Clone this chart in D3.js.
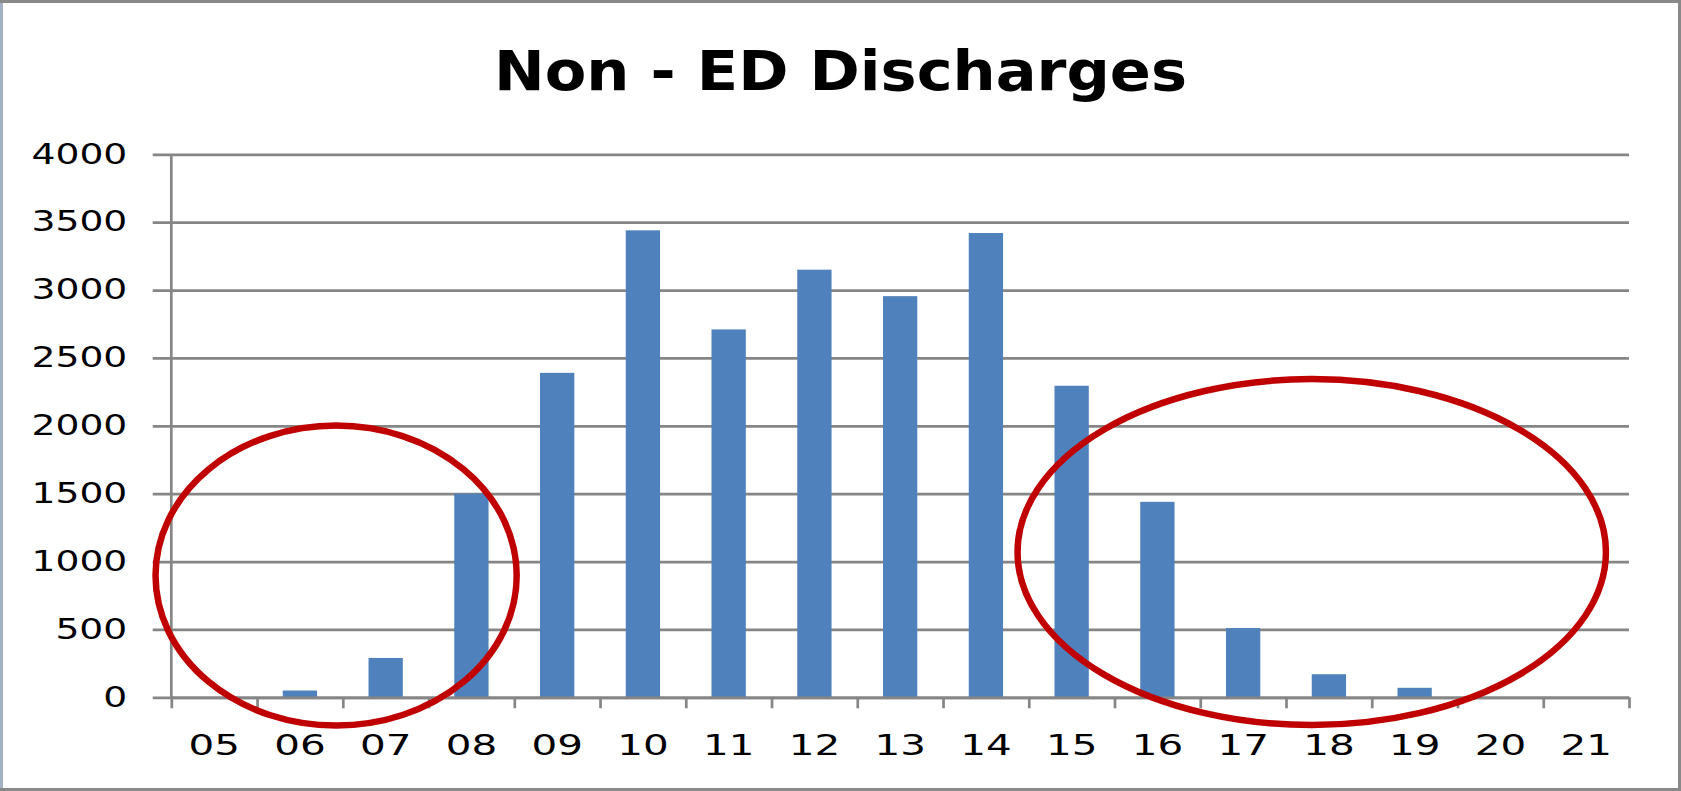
<!DOCTYPE html>
<html>
<head>
<meta charset="utf-8">
<script src="https://cdn.jsdelivr.net/npm/d3@7"></script>
<style>
body { margin: 0; background: #fff; }
</style>
</head>
<body>
<div id="chart"></div>
<script>
// chart data
var years = ["05", "06", "07", "08", "09", "10", "11", "12", "13", "14", "15", "16", "17", "18", "19", "20", "21"];
var discharges = [0, 50, 290, 1500, 2390, 3440, 2710, 3150, 2955, 3420, 2295, 1440, 510, 170, 70, 0, 0];
var yTicks = [0, 500, 1000, 1500, 2000, 2500, 3000, 3500, 4000];
var chartTitle = "Non - ED Discharges";

// red rings drawn over the chart: centre as category index / value, radius in bands / value
var ringX = [1.922, 13.30];
var ringY = [897, 1070];
var ringRx = [2.106, 3.431];
var ringRy = [1105, 1274];

var width = 1681, height = 791;
var margin = {top: 154.3, right: 52, bottom: 93.7, left: 171.3};
var plotW = width - margin.left - margin.right;
var plotH = height - margin.top - margin.bottom;

var svg = d3.select("#chart")
.append("svg")
.attr("width", width)
.attr("height", height);

// outer frame
svg.append("rect")
.attr("x", 1.5).attr("y", 1.5)
.attr("width", width - 3).attr("height", height - 3)
.attr("fill", "#fff")
.attr("stroke", "#898989")
.attr("stroke-width", 3);

svg.append("line")
.attr("x1", 1.5).attr("x2", 1.5)
.attr("y1", 3).attr("y2", height - 3)
.attr("stroke", "#a3b1c4")
.attr("stroke-width", 3);

// title
svg.append("text")
.attr("x", width / 2)
.attr("y", 90)
.attr("text-anchor", "middle")
.attr("font-family", "DejaVu Sans")
.attr("font-weight", "bold")
.attr("font-size", 56)
.attr("textLength", 693)
.attr("lengthAdjust", "spacingAndGlyphs")
.attr("fill", "#000")
.text(chartTitle);

var chartgroup = svg.append("g")
.attr("transform", "translate(" + margin.left + "," + margin.top + ")");

var xband = d3.scaleBand()
.domain(years)
.range([0, plotW])
.padding(0);

// index scale for the category boundaries
var xindex = d3.scaleLinear()
.domain([0, years.length])
.range([0, plotW]);

var ylinearscale = d3.scaleLinear()
.domain([0, 4000])
.range([plotH, 0]);

var gridColor = "#868686";

// y gridlines + labels
var yaxis = chartgroup.append("g")
.call(d3.axisLeft(ylinearscale).tickValues(yTicks).tickFormat(d3.format("d")).tickSizeInner(-plotW).tickSizeOuter(0).tickPadding(44));
yaxis.select(".domain").remove();
yaxis.selectAll("line")
.attr("x1", -18.6)
.attr("stroke", gridColor)
.attr("stroke-width", 2.7);
var ySx = 1.37;
yaxis.selectAll("text")
.attr("font-family", "DejaVu Sans")
.attr("font-size", 27.5)
.attr("fill", "#000")
.attr("x", -44 / ySx)
.attr("transform", "scale(" + ySx + ",1)");

// bars
chartgroup.append("g")
.selectAll("rect")
.data(discharges)
.enter()
.append("rect")
.attr("x", (d, i) => xband(years[i]) + xband.bandwidth() * 0.3)
.attr("width", xband.bandwidth() * 0.4)
.attr("y", d => ylinearscale(d))
.attr("height", d => plotH - ylinearscale(d))
.attr("fill", "#4f81bd");

// vertical axis line
chartgroup.append("line")
.attr("x1", 0).attr("x2", 0)
.attr("y1", 0).attr("y2", plotH)
.attr("stroke", gridColor)
.attr("stroke-width", 2.7);

// x tick marks at category boundaries
var xticks = chartgroup.append("g")
.attr("transform", "translate(0," + plotH + ")")
.call(d3.axisBottom(xindex).tickValues(d3.range(years.length + 1)).tickFormat("").tickSizeInner(11).tickSizeOuter(0));
xticks.selectAll("line, path")
.attr("stroke", gridColor)
.attr("stroke-width", 2.7);

// x labels at band centres
var xSx = 1.42;
var xlabels = chartgroup.append("g")
.attr("transform", "translate(0," + plotH + ")")
.call(d3.axisBottom(xband).tickSize(0).tickPadding(37));
xlabels.select(".domain").remove();
xlabels.selectAll("text")
.attr("font-family", "DejaVu Sans")
.attr("font-size", 28.5)
.attr("fill", "#000")
.attr("transform", "scale(" + xSx + ",1)");
xlabels.selectAll(".tick")
.attr("transform", d => "translate(" + (xband(d) + xband.bandwidth() / 2) + ",0)");

// red rings
chartgroup.append("g")
.selectAll("ellipse")
.data(ringX)
.enter()
.append("ellipse")
.attr("cx", d => xindex(d))
.attr("cy", (d, i) => ylinearscale(ringY[i]))
.attr("rx", (d, i) => xindex(ringRx[i]) - xindex(0))
.attr("ry", (d, i) => plotH - ylinearscale(ringRy[i]))
.attr("fill", "none")
.attr("stroke", "#c00000")
.attr("stroke-width", 6.5);
</script>
</body>
</html>
